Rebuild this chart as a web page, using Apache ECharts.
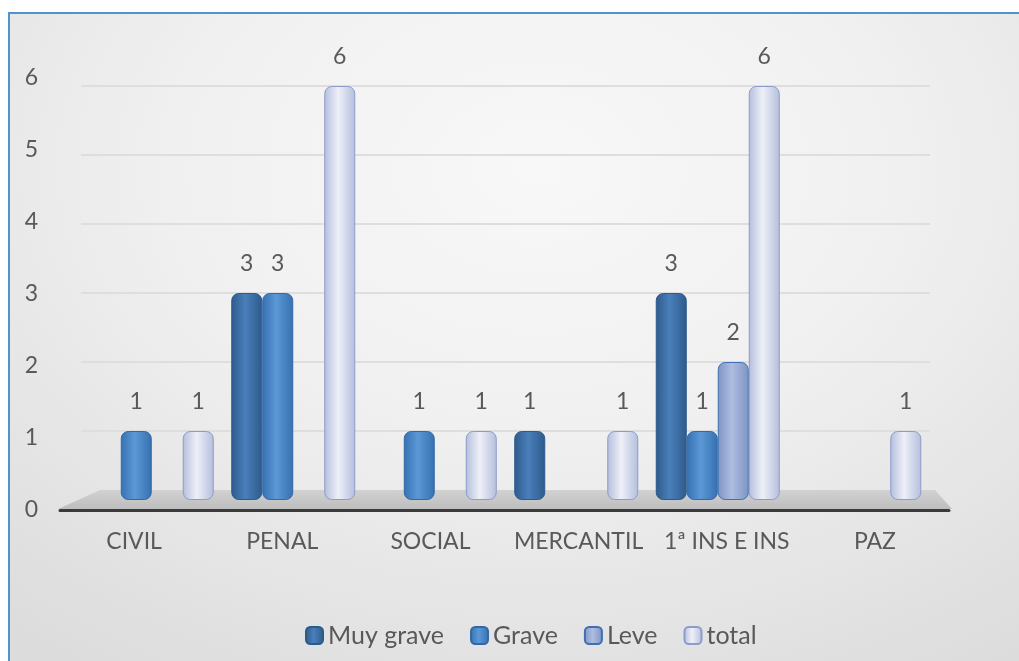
<!DOCTYPE html>
<html>
<head>
<meta charset="UTF-8">
<title></title>
<script src="https://cdn.jsdelivr.net/npm/echarts@6/dist/echarts.min.js"></script>
<style>
  html, body { margin: 0; padding: 0; overflow: hidden; background: #fff; }
  #frame {
    position: absolute; left: 8px; top: 12px; width: 1100px; height: 700px;
    border-left: 2px solid #4f93cf; border-top: 2px solid #4f93cf;
    background: radial-gradient(ellipse 75% 85% at 48% 22%, #f8f8f8 0%, #f0f0f0 45%, #dcdcdc 100%);
  }
  #container { position: absolute; left: 0; top: 0; width: 1019px; height: 661px; }
</style>
</head>
<body>
    <div id="frame"></div>
    <div id="container"></div>
    <script type="text/javascript">
    // datos
    var categorias = ['CIVIL', 'PENAL', 'SOCIAL', 'MERCANTIL', '1ª INS E INS', 'PAZ'];
    var muyGrave = [0, 3, 0, 1, 3, 0];
    var grave = [1, 3, 1, 0, 1, 0];
    var leve = [0, 0, 0, 0, 2, 0];
    var total = [1, 6, 1, 1, 6, 1];
    var yTicks = [0, 1, 2, 3, 4, 5, 6];

    var txt = '#595959';
    var fuente = 'Lato';
    var tam = 23;

    function cilindro(borde, centro) {
        return new echarts.graphic.LinearGradient(0, 0, 1, 0, [
            { offset: 0, color: borde },
            { offset: 0.45, color: centro },
            { offset: 1, color: borde }
        ]);
    }

    function serie(nombre, datos, c1, c2, linea) {
        return {
            name: nombre,
            type: 'bar',
            xAxisIndex: 0,
            yAxisIndex: 0,
            // los ceros no se dibujan en el original
            data: datos.map(function (v) { return v === 0 ? '-' : v; }),
            barWidth: 31,
            barGap: '0%',
            itemStyle: {
                color: cilindro(c1, c2),
                borderColor: linea,
                borderWidth: 1,
                borderRadius: [7, 7, 7, 7]
            },
            label: {
                show: true,
                position: 'top',
                distance: 18,
                color: txt,
                fontFamily: fuente,
                fontSize: tam
            }
        };
    }

    var mychart = echarts.init(document.getElementById('container'));
    var option = {
        backgroundColor: 'transparent',
        animation: false,
        textStyle: { fontFamily: fuente },
        grid: [
            // barras
            { left: 81, right: 89, top: 86, bottom: 161 },
            // rotulos
            { left: 60, right: 70, top: 78, bottom: 151 }
        ],
        legend: {
            top: 618,
            left: 300,
            itemWidth: 17,
            itemHeight: 17,
            itemGap: 26,
            textStyle: { color: txt, fontSize: 25, fontFamily: fuente },
            data: ['Muy grave', 'Grave', 'Leve', 'total']
        },
        graphic: [{
            type: 'polygon',
            z: 1,
            shape: { points: [[58, 509], [100, 490], [935, 490], [952, 509]] },
            style: {
                fill: new echarts.graphic.LinearGradient(0, 0, 0, 1, [
                    { offset: 0, color: '#d2d2d2' },
                    { offset: 1, color: '#bdbdbd' }
                ])
            }
        }],
        xAxis: [{
            type: 'category',
            gridIndex: 0,
            data: categorias,
            axisLine: { show: false },
            axisTick: { show: false },
            axisLabel: { show: false }
        }, {
            type: 'category',
            gridIndex: 1,
            data: categorias,
            axisLine: { show: true, lineStyle: { color: '#3a3a3a', width: 3 } },
            axisTick: { show: false },
            axisLabel: { color: txt, fontSize: tam, fontFamily: fuente, margin: 20, interval: 0 },
            z: 5
        }],
        yAxis: [{
            type: 'value',
            gridIndex: 0,
            min: 0,
            max: 6,
            interval: 1,
            axisLine: { show: false },
            axisTick: { show: false },
            axisLabel: { show: false },
            splitLine: { lineStyle: { color: '#dedede', width: 2 } }
        }, {
            type: 'value',
            gridIndex: 1,
            min: yTicks[0],
            max: yTicks[yTicks.length - 1],
            interval: 1,
            axisLine: { show: false },
            axisTick: { show: false },
            splitLine: { show: false },
            axisLabel: { color: txt, fontSize: tam, fontFamily: fuente, margin: 22 }
        }],
        series: [
            serie('Muy grave', muyGrave, '#2e5a8c', '#4a7fba', '#2c5a8a'),
            serie('Grave', grave, '#3670b0', '#5b98d6', '#3368a6'),
            serie('Leve', leve, '#7d94c2', '#aebde0', '#3e6fb4'),
            serie('total', total, '#b4bedc', '#eef0f8', '#8c9bcb')
        ]
    };

    mychart.setOption(option);
    </script>
</body>
</html>
